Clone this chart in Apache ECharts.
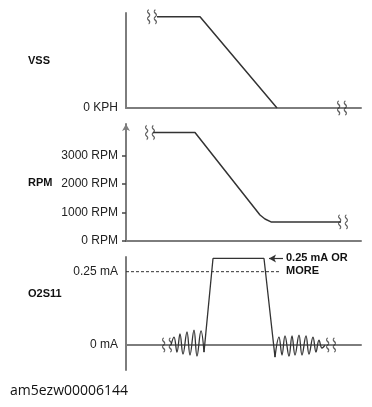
<!DOCTYPE html>
<html><head><meta charset="utf-8">
<script src="https://cdn.jsdelivr.net/npm/echarts@6/dist/echarts.min.js"></script>
<style>html,body{margin:0;padding:0;background:#fff}#c{width:372px;height:407px}</style>
</head><body><div id="c"></div>
<script>
// ---- data (time in arbitrary units, 0..235) ----
const vssPoints = [[31,96],[74,96],[151,0]];
const vssBreaks = [[26,96],[216,0]];
const rpmPoints = [[27,3800],[69,3800],[134,910],[139,770],[145,670],[215,670]];
const rpmBreaks = [[24,3800],[217,670]];
const rpmTicks = [0,1000,2000,3000];
const o2WaveLeft = [[45,0.0],[48,0.027],[51,-0.024],[54,0.038],[57,-0.031],[61,0.045],[64,-0.034],[68,0.051],[71,-0.038],[75,0.048],[78,-0.024]];
const o2Pulse = [[78,-0.024],[87,0.295],[138,0.295],[149,-0.041]];
const o2WaveRight = [[149,-0.041],[153,0.027],[156,-0.034],[159,0.031],[163,-0.038],[166,0.031],[169,-0.034],[173,0.034],[176,-0.034],[180,0.031],[183,-0.031],[187,0.027],[190,-0.024],[193,0.017],[196,-0.010],[199,0.0]];
const o2Breaks = [[41,0],[205,0]];
const o2Threshold = [[0,0.25],[154,0.25]];
const o2Arrow = [[157,0.295],[143,0.295]];
const o2Note = '0.25 mA OR\nMORE';
const o2NoteAt = [160,0.295];
const panelNames = ['VSS','RPM','O2S11'];
const caption = 'am5ezw00006144';

const FONT = "'Liberation Sans', Arial, sans-serif";
const AXIS_COLOR = '#7d7d7d';
const LINE_COLOR = '#333';
const breakPath = 'path://M3,0 C0,3 6,4 3,7 C0,10 6,11 3,14 M8,0 C5,3 11,4 8,7 C5,10 11,11 8,14';

const chart = echarts.init(document.getElementById('c'), null, {renderer:'canvas'});

const grids = [
  {left:126, right:11, top:13, height:95},
  {left:126, right:11, top:124, height:117},
  {left:126, right:11, top:257, height:113}
];
function xAx(i){
  return {gridIndex:i, type:'value', min:0, max:235,
    axisLine:{show:true, onZero:true, lineStyle:{color:AXIS_COLOR, width:2}},
    axisTick:{show:false}, axisLabel:{show:false}, splitLine:{show:false}};
}
const lbl = {color:'#222', fontSize:12, fontFamily:FONT, margin:8};
const yAxes = [
  {gridIndex:0, type:'value', min:0, max:100,
    axisLine:{show:true, lineStyle:{color:AXIS_COLOR, width:2}},
    axisTick:{show:false}, splitLine:{show:false},
    axisLabel:Object.assign({customValues:[0], formatter:()=> '0 KPH'}, lbl)},
  {gridIndex:1, type:'value', min:0, max:4100,
    axisLine:{show:true, symbol:['none','arrow'], symbolSize:[6,7], lineStyle:{color:AXIS_COLOR, width:2}},
    axisTick:{show:true, customValues:rpmTicks, length:4, lineStyle:{color:'#444', width:1.5}},
    splitLine:{show:false},
    axisLabel:Object.assign({customValues:rpmTicks, formatter:(v)=> v + ' RPM'}, lbl)},
  {gridIndex:2, type:'value', min:-0.085, max:0.30,
    axisLine:{show:true, lineStyle:{color:AXIS_COLOR, width:2}},
    axisTick:{show:false}, splitLine:{show:false},
    axisLabel:Object.assign({customValues:[0,0.25], formatter:(v)=> v===0 ? '0 mA' : '0.25 mA'}, lbl)}
];
function lineS(i, data, extra){
  return Object.assign({type:'line', xAxisIndex:i, yAxisIndex:i, data:data, symbol:'none',
    lineStyle:{color:LINE_COLOR, width:1.5}, silent:true, animation:false, z:3}, extra||{});
}
function breakS(i, data){
  return {type:'scatter', xAxisIndex:i, yAxisIndex:i, data:data, symbol:breakPath,
    symbolSize:[9,14], itemStyle:{color:'none', borderColor:'#333', borderWidth:1.3}, silent:true, animation:false, z:4};
}

chart.setOption({
  animation:false,
  grid:grids,
  xAxis:[xAx(0),xAx(1),xAx(2)],
  yAxis:yAxes,
  series:[
    lineS(0, vssPoints),
    breakS(0, vssBreaks),
    lineS(1, rpmPoints),
    breakS(1, rpmBreaks),
    lineS(2, o2WaveLeft, {smooth:0.4, lineStyle:{color:LINE_COLOR, width:1.3}}),
    lineS(2, o2Pulse, {lineStyle:{color:LINE_COLOR, width:1.3},
      markLine:{silent:true, animation:false, symbol:['none','arrow'], symbolSize:[6,7],
        lineStyle:{color:LINE_COLOR, width:1.2, type:'solid'}, label:{show:false},
        data:[[{coord:o2Arrow[0]},{coord:o2Arrow[1]}]]}}),
    lineS(2, o2WaveRight, {smooth:0.4, lineStyle:{color:LINE_COLOR, width:1.3}}),
    lineS(2, o2Threshold, {lineStyle:{color:LINE_COLOR, width:1, type:[3,2]}}),
    breakS(2, o2Breaks)
  ]
});

const notePx = chart.convertToPixel({gridIndex:2}, o2NoteAt);
const titleY = [62, 184, 295];
const g = panelNames.map((n,i)=>({type:'text', left:28, top:titleY[i]-7,
  style:{text:n, font:'bold 11px '+FONT, fill:'#111'}}));
g.push({type:'text', x:notePx[0], y:notePx[1]-7,
  style:{text:o2Note, font:'bold 11px '+FONT, fill:'#111', lineHeight:13, verticalAlign:'top'}});
g.push({type:'text', left:10, top:384, style:{text:caption, font:"14px 'Open Sans', 'DejaVu Sans', sans-serif", fill:'#111'}});
chart.setOption({graphic:g});
</script></body></html>
